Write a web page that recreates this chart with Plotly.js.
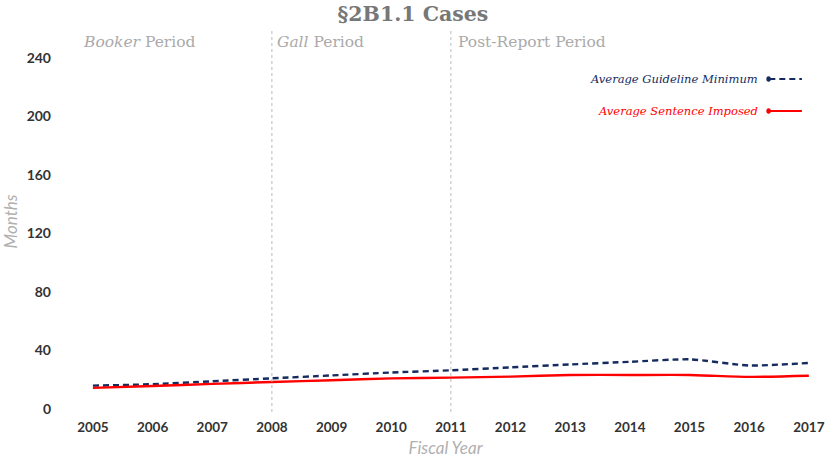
<!DOCTYPE html>
<html><head><meta charset="utf-8">
<script src="https://cdn.plot.ly/plotly-3.0.1.min.js"></script>
<style>html,body{margin:0;padding:0;background:#fff}#chart{width:826px;height:461px}</style>
</head><body><div id="chart"></div>
<script>
const years = [2005,2006,2007,2008,2009,2010,2011,2012,2013,2014,2015,2016,2017];
const guidelineMin = [16,17,19,21,23,25,26.5,28.5,30.5,32.3,34,29.8,31.5];
const sentenceImposed = [14.5,15.8,17.2,18.5,19.7,21,21.5,22.2,23.3,23.3,23.3,22,22.8];
const periodStarts = [2008, 2011];
const periodLabels = ['<i>Booker</i> Period', '<i>Gall</i> Period', 'Post-Report Period'];
const periodLabelX = [2004.8, 2008.06, 2011.08];
const seriesNames = ['Average Guideline Minimum', 'Average Sentence Imposed'];
const yTicks = [0,40,80,120,160,200,240];

const navy = '#152b5f', red = '#ff0000';
const serif = '"DejaVu Serif", "Liberation Serif", serif';

const traces = [
  {x: years, y: guidelineMin, name: seriesNames[0], mode: 'lines', line: {color: navy, width: 2.4, dash: '6px,4px', shape: 'spline', smoothing: 0.6}, hoverinfo: 'skip'},
  {x: years, y: sentenceImposed, name: seriesNames[1], mode: 'lines', line: {color: red, width: 2.4, shape: 'spline', smoothing: 0.6}, hoverinfo: 'skip'}
];

const shapes = periodStarts.map(p => ({type: 'line', xref: 'x', yref: 'paper', x0: p, x1: p, y0: 0, y1: 1, line: {color: '#bbbbbb', width: 1, dash: 'dot'}}));
const annotations = periodLabels.map((t, i) => ({text: t, x: periodLabelX[i], xref: 'x', xanchor: 'left', y: 1.0, yref: 'paper', yanchor: 'top', showarrow: false, font: {family: serif, size: 15.5, color: '#aaaaaa'}}));

// legend (custom, symbol on the right)
const legRows = [0.874, 0.790];
const legColors = [navy, red];
seriesNames.forEach((n, i) => {
  annotations.push({text: '<i>' + n + '</i>', xref: 'paper', yref: 'paper', x: 0.925, y: legRows[i], xanchor: 'right', yanchor: 'middle', showarrow: false, font: {family: serif, size: 11.5, color: legColors[i]}});
  shapes.push({type: 'line', xref: 'paper', yref: 'paper', x0: 0.937, x1: 0.981, y0: legRows[i], y1: legRows[i], line: {color: legColors[i], width: 2, dash: i === 0 ? '6px,4px' : 'solid'}});
  shapes.push({type: 'circle', xref: 'paper', yref: 'paper', x0: 0.933, x1: 0.939, y0: legRows[i] - 0.007, y1: legRows[i] + 0.007, fillcolor: legColors[i], line: {color: legColors[i], width: 0}});
});

const layout = {
  width: 826, height: 461,
  margin: {l: 75, r: 10, t: 31, b: 49},
  paper_bgcolor: '#fff', plot_bgcolor: '#fff',
  showlegend: false,
  title: {text: '§2B1.1 Cases', x: 0.5, xanchor: 'center', yref: 'container', y: 0.97, yanchor: 'middle', font: {family: serif, size: 20.5, color: '#777777', weight: 'bold'}},
  xaxis: {range: [2004.7, 2017.12], tickvals: years, ticktext: years.map(String), showgrid: false, zeroline: false, showline: false, ticks: '', tickfont: {family: 'Lato', size: 13.5, color: '#333', weight: 'bold'}, ticklabelstandoff: 5,
          title: {text: '<i>Fiscal Year</i>', font: {family: 'Lato', size: 17, color: '#b0b0b0'}, standoff: 8}},
  yaxis: {range: [-2, 258.4], tickvals: yTicks, showgrid: false, zeroline: false, showline: false, ticks: '', tickfont: {family: 'Lato', size: 14, color: '#333', weight: 'bold'}, ticklabelstandoff: 23,
          title: {text: '<i>Months</i>', font: {family: 'Lato', size: 17, color: '#b0b0b0'}, standoff: 8}},
  shapes: shapes, annotations: annotations
};
Plotly.newPlot('chart', traces, layout, {staticPlot: true, displayModeBar: false});
</script></body></html>
